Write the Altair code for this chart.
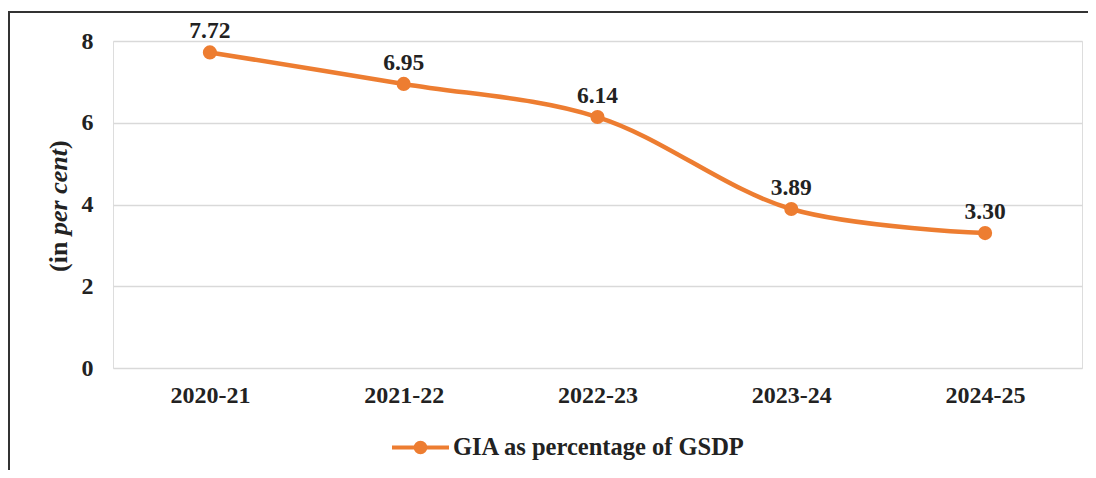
import altair as alt
import pandas as pd

years = ["2020-21", "2021-22", "2022-23", "2023-24", "2024-25"]
values = [7.72, 6.95, 6.14, 3.89, 3.30]
labels = ["7.72", "6.95", "6.14", "3.89", "3.30"]
series_name = "GIA as percentage of GSDP"
y_ticks = [0, 2, 4, 6, 8]

df = pd.DataFrame({"year": years, "value": values, "label": labels,
                   "series": [series_name] * len(years)})

ORANGE = "#ED7D31"
FONT = "'Liberation Serif', 'Times New Roman', Times, serif"

x_enc = alt.X("year:N", sort=years,
              scale=alt.Scale(type="point", padding=0.5),
              axis=alt.Axis(title=None, labelFont=FONT, labelFontWeight="bold",
                            labelFontSize=24, labelColor="#222222",
                            domain=False, ticks=False, grid=False,
                            labelPadding=15, labelAngle=0))
y_enc = alt.Y("value:Q", scale=alt.Scale(domain=[0, 8], nice=False),
              axis=alt.Axis(title=None, values=y_ticks, labelFont=FONT,
                            labelFontWeight="bold", labelFontSize=24,
                            labelColor="#222222", domain=False, ticks=False,
                            grid=True, gridColor="#D9D9D9", gridWidth=1.5,
                            labelPadding=20))

legend_path = ("M-1,0L1,0M0.17,0A0.17,0.17,0,1,1,-0.17,0"
               "A0.17,0.17,0,1,1,0.17,0Z")

color_enc = alt.Color("series:N", scale=alt.Scale(range=[ORANGE]),
                      legend=alt.Legend(title=None, orient="none",
                                        legendX=277, legendY=376,
                                        symbolType=legend_path,
                                        symbolSize=3249,
                                        symbolStrokeWidth=4,
                                        symbolFillColor=ORANGE,
                                        symbolStrokeColor=ORANGE,
                                        labelFont=FONT, labelFontWeight="bold",
                                        labelFontSize=24.5, labelColor="#222222",
                                        labelOffset=2, labelLimit=0))

base = alt.Chart(df)

frame = alt.Chart(pd.DataFrame({"a": [0]})).mark_rect(
    fill=None, stroke="#333333", strokeWidth=2
).encode(x=alt.value(-104), x2=alt.value(1200),
         y=alt.value(-29), y2=alt.value(600))

line = base.mark_line(strokeWidth=4.5, interpolate="catmull-rom").encode(
    x=x_enc, y=y_enc, color=color_enc)
points = base.mark_point(filled=True, size=200, opacity=1).encode(
    x=x_enc, y=y_enc, color=color_enc)
text = base.mark_text(dy=-21, font=FONT, fontWeight="bold", fontSize=23.5,
                      color="#222222").encode(
    x=x_enc, y=y_enc, text="label:N")

title_df = pd.DataFrame({"a": [0]})
t1 = alt.Chart(title_df).mark_text(angle=270, align="left", baseline="middle",
                                   font=FONT, fontWeight="bold", fontSize=26,
                                   color="#222222").encode(
    x=alt.value(-54), y=alt.value(231), text=alt.value("(in "))
t2 = alt.Chart(title_df).mark_text(angle=270, align="left", baseline="middle",
                                   font=FONT, fontWeight="bold", fontStyle="italic",
                                   fontSize=26, color="#222222").encode(
    x=alt.value(-54), y=alt.value(194), text=alt.value("per cent"))
t3 = alt.Chart(title_df).mark_text(angle=270, align="left", baseline="middle",
                                   font=FONT, fontWeight="bold", fontSize=26,
                                   color="#222222").encode(
    x=alt.value(-54), y=alt.value(108), text=alt.value(")"))

chart = alt.layer(frame, line, points, text, t1, t2, t3).properties(
    width=969, height=327,
    autosize=alt.AutoSizeParams(type="none"),
    padding={"left": 105, "top": 33, "right": 6, "bottom": 102},
).configure_view(stroke=None).configure(background="white")

chart.save("out.html", embed_options={"renderer": "svg", "actions": False})
